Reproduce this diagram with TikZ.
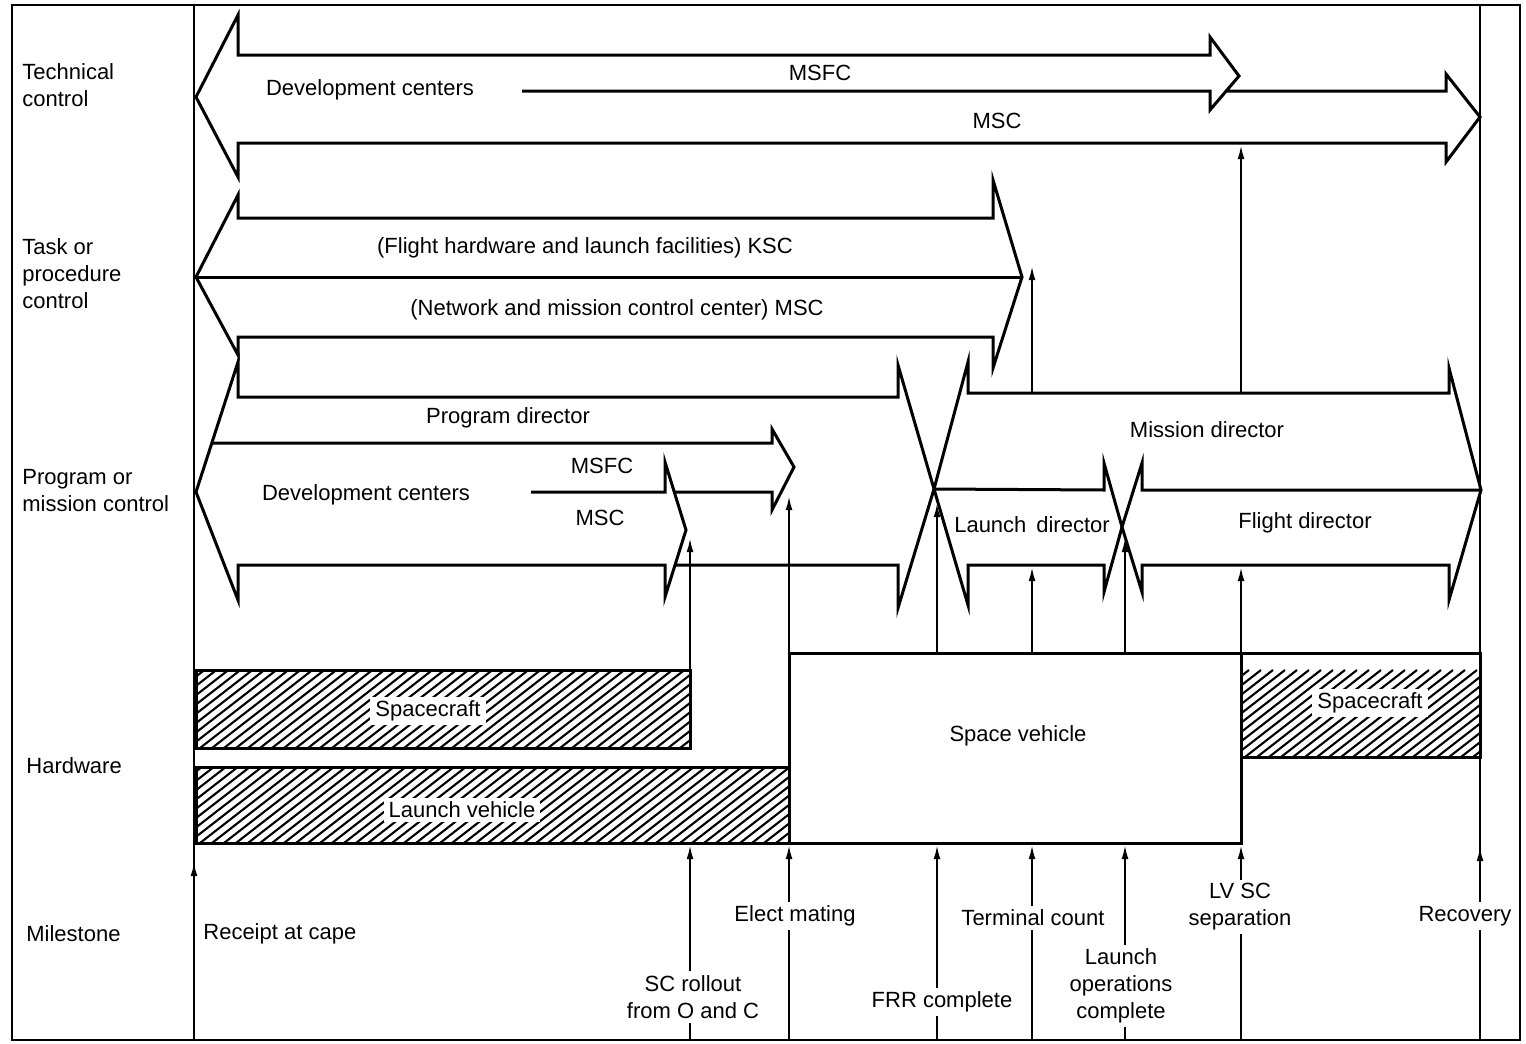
\documentclass[tikz,border=0pt]{standalone}
\usepackage{fontspec}
\setmainfont{Liberation Sans}
\usetikzlibrary{arrows.meta}
\newcommand\hatchrect[4]{%
  \begin{scope}
    \clip (#1,#2) rectangle (#3,#4);
    \foreach \xx in {-140,-128,...,620} \draw[hatchln] ({#1+\xx},#4) -- ++(112,-87);
  \end{scope}
  \draw[hbox] (#1,#2) rectangle (#3,#4);}
\begin{document}
\begin{tikzpicture}[x=0.5pt,y=-0.5pt,
  outl/.style={line width=1.5pt, line join=miter},
  frameln/.style={line width=1.3pt},
  marr/.style={line width=1pt,-{Latex[length=7pt,width=3.4pt]}},
  hatchln/.style={line width=1.05pt},
  hbox/.style={line width=1.5pt},
  lbl/.style={font=\fontsize{11}{13.5}\selectfont, inner sep=1pt},
  wlbl/.style={lbl, fill=white, align=center, inner sep=2pt},
  hlbl/.style={lbl, fill=white, inner xsep=2.5pt, inner ysep=2pt},
  rowlbl/.style={lbl, anchor=west, align=left}]
\useasboundingbox (0,0) rectangle (1526,1044);

% frame and column lines
\draw[frameln] (12,5) rectangle (1520,1040);
\draw[frameln] (194,5) -- (194,1040);
\draw[frameln] (1480,5) -- (1480,1040);

% row labels
\node[rowlbl] (rTech) at (20,85) {Technical\\control};
\node[rowlbl] (rTask) at (20,274) {Task or\\procedure\\control};
\node[rowlbl] (rProg) at (20,491) {Program or\\mission control};
\node[rowlbl] (rHard) at (24,766) {Hardware};
\node[rowlbl] (rMile) at (24,934) {Milestone};

% ---- Technical control
\draw[outl] (522,91) -- (1210,91) -- (1210,110) -- (1239,76) -- (1210,37) -- (1210,55)
  -- (238,55) -- (238,15) -- (196,97) -- (238,177) -- (238,143) -- (1446,143)
  -- (1446,162) -- (1480,117) -- (1446,74) -- (1446,91) -- (1226,91);
\node[lbl] (tDev) at (370,90) {Development centers};
\node[lbl] (tMSFC) at (820,73) {MSFC};
\node[lbl] (tMSC) at (997,121) {MSC};

% ---- Task or procedure control
\draw[outl] (238,218) -- (238,195) -- (196,277) -- (238,355) -- (238,337) -- (993,337)
  -- (993,368) -- (1022,277) -- (993,180) -- (993,218) -- cycle;
\draw[outl] (196,277) -- (1022,277);
\node[lbl] (kKSC) at (585,248) {(Flight hardware and launch facilities) KSC};
\node[lbl] (kMSC) at (617,310) {(Network and mission control center) MSC};

% ---- Program director
\draw[outl] (531,492) -- (665,492) -- (665,462) -- (686,530) -- (665,597) -- (665,565)
  -- (238,565) -- (238,600) -- (196,492) -- (238,362) -- (238,397) -- (898,397)
  -- (898,365) -- (934,489) -- (898,608) -- (898,565) -- (675,565);
\draw[outl] (212,443) -- (772,443) -- (772,429) -- (794,467) -- (772,510) -- (772,492) -- (674,492);
\node[lbl] (pDir) at (508,418) {Program director};
\node[lbl] (pDev) at (366,495) {Development centers};
\node[lbl] (pMSFC) at (602,466) {MSFC};
\node[lbl] (pMSC) at (600,518) {MSC};

% ---- Mission director
\draw[outl] (934,489) -- (968,362) -- (968,393) -- (1449,393) -- (1449,368) -- (1481,490)
  -- (1449,600) -- (1449,565) -- (1142,565) -- (1142,592) -- (1122,527) -- (1142,463)
  -- (1142,490) -- (1481,490);
\draw[outl] (934,489) -- (968,605) -- (968,565) -- (1104,565) -- (1104,592) -- (1122,527)
  -- (1104,463) -- (1104,490) -- (934,489);
\node[lbl] (mDir) at (1207,430) {Mission director};
\node[lbl] (lDir) at (1032,525) {Launch\hspace{0.45em}director};
\node[lbl] (fDir) at (1305,523) {Flight director};

% ---- Hardware
\hatchrect{196}{670}{690}{748}
\hatchrect{196}{767}{789}{843}
\hatchrect{1241}{653}{1480}{757}
\draw[hbox] (789,653) rectangle (1241,843);
\node[hlbl] (hSC) at (428,711) {Spacecraft};
\node[hlbl] (hLV) at (462,810) {Launch vehicle};
\node[lbl] (hSV) at (1018,736) {Space vehicle};
\node[hlbl] (hSC2) at (1370,703) {Spacecraft};

% ---- coordinates for milestone connectors
\coordinate (bRec) at (194,1040);   \coordinate (tRec) at (194,862);
\coordinate (bSC) at (690,1040);    \coordinate (tSC) at (690,845);
\coordinate (bEM) at (789,1040);    \coordinate (tEM) at (789,845);
\coordinate (bFRR) at (937,1040);   \coordinate (tFRR) at (937,845);
\coordinate (bTC) at (1032,1040);   \coordinate (tTC) at (1032,845);
\coordinate (bLO) at (1125,1040);   \coordinate (tLO) at (1125,845);
\coordinate (bSep) at (1241,1040);  \coordinate (tSep) at (1241,845);
\coordinate (bRcv) at (1480,1040);  \coordinate (tRcv) at (1480,847);

\draw[marr] (bRec) -- (tRec);
\draw[marr] (bSC) -- (tSC);
\draw[marr] (bEM) -- (tEM);
\draw[marr] (bFRR) -- (tFRR);
\draw[marr] (bTC) -- (tTC);
\draw[marr] (bLO) -- (tLO);
\draw[marr] (bSep) -- (tSep);
\draw[marr] (bRcv) -- (tRcv);

% upper milestone connectors
\coordinate (u1b) at (690,670);   \coordinate (u1t) at (690,538);
\coordinate (u2b) at (789,653);   \coordinate (u2t) at (789,496);
\coordinate (u3b) at (937,653);   \coordinate (u3t) at (937,503);
\coordinate (u4b) at (1032,653);  \coordinate (u4t) at (1032,567);
\coordinate (u5b) at (1125,653);  \coordinate (u5t) at (1125,538);
\coordinate (u6b) at (1241,653);  \coordinate (u6t) at (1241,567);
\coordinate (u7b) at (1032,393);  \coordinate (u7t) at (1032,266);
\coordinate (u8b) at (1241,393);  \coordinate (u8t) at (1241,145);
\foreach \k in {1,...,8} \draw[marr] (u\k b) -- (u\k t);

% milestone labels
\node[rowlbl] (lRec) at (201,934) {Receipt at cape};
\node[wlbl] (lSC) at (693,997) {SC rollout\\from O and C};
\node[wlbl] (lEM) at (795,916) {Elect mating};
\node[wlbl] (lFRR) at (942,1002) {FRR complete};
\node[wlbl] (lTC) at (1033,918) {Terminal count};
\node[wlbl] (lLO) at (1121,986) {Launch\\operations\\complete};
\node[wlbl] (lSep) at (1240,907) {LV SC\\separation};
\node[wlbl] (lRcv) at (1465,916) {Recovery};
\end{tikzpicture}
\end{document}
